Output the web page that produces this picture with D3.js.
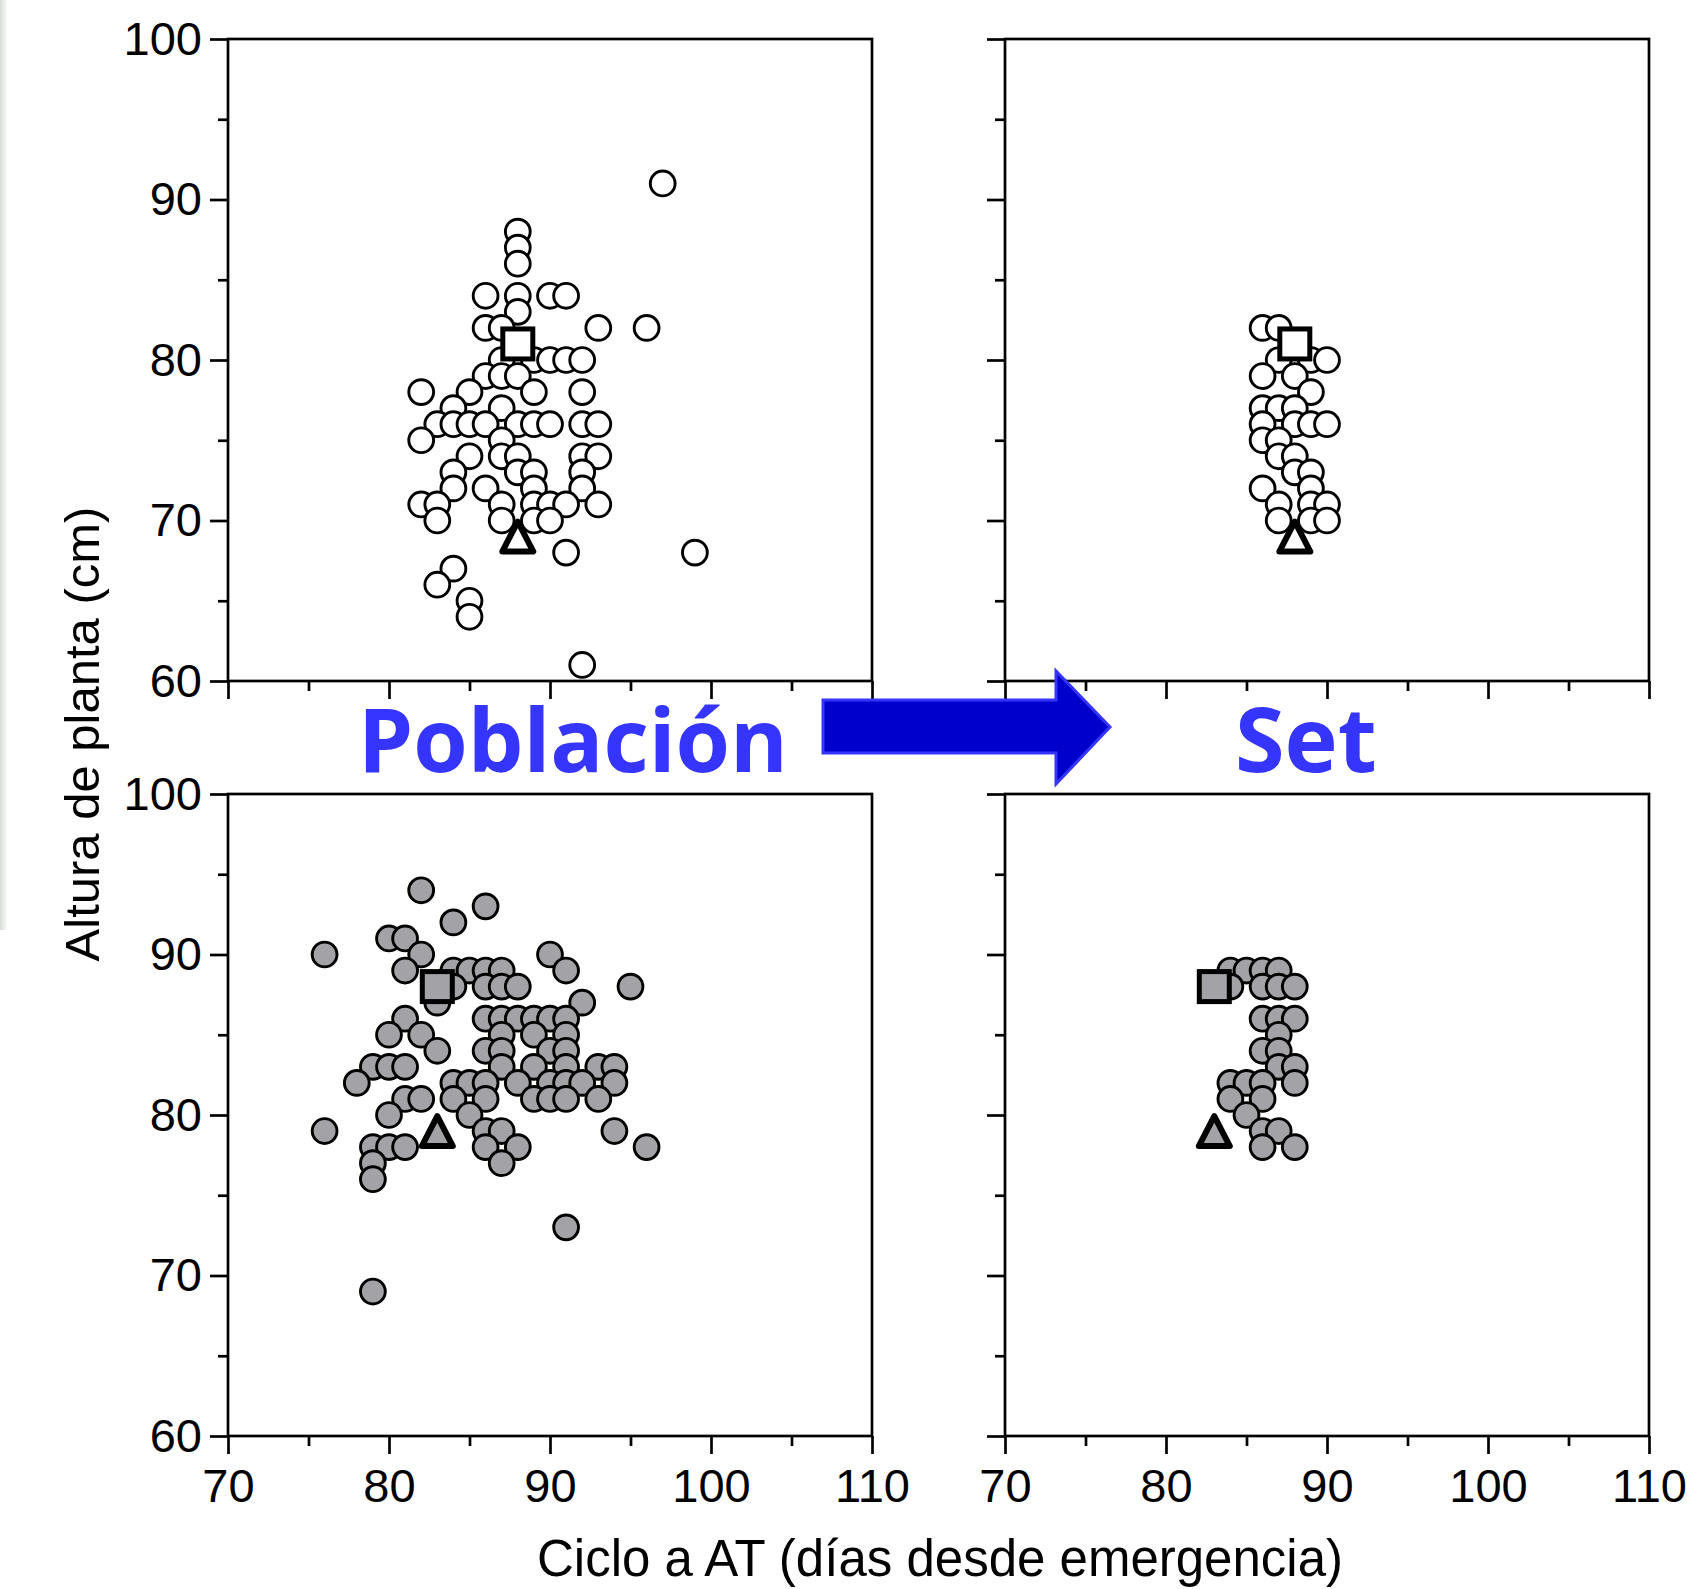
<!DOCTYPE html>
<html>
<head>
<meta charset="utf-8">
<script src="https://cdn.jsdelivr.net/npm/d3@7"></script>
<style>
  body { margin: 0; background: #fff; }
  svg { display: block; }
</style>
</head>
<body>
<svg id="chart" width="1687" height="1589"></svg>
<script>
// Ciclo a antesis (días) vs altura de planta (cm)
// Población completa (izquierda) y set seleccionado (derecha)

// ensayo 1 (símbolos blancos)
const poblacion1 = [
  [97,91],[88,88],[88,87],[88,86],[86,84],[88,84],[90,84],[91,84],[88,83],
  [86,82],[87,82],[93,82],[96,82],[87,80],[89,80],[90,80],[91,80],[92,80],
  [86,79],[87,79],[88,79],[82,78],[85,78],[89,78],[92,78],[84,77],[87,77],
  [83,76],[84,76],[85,76],[86,76],[88,76],[89,76],[90,76],[92,76],[93,76],
  [82,75],[87,75],[85,74],[87,74],[88,74],[92,74],[93,74],[84,73],[88,73],
  [89,73],[92,73],[84,72],[86,72],[89,72],[92,72],[82,71],[83,71],[87,71],
  [89,71],[90,71],[91,71],[93,71],[83,70],[87,70],[89,70],[90,70],[91,68],
  [99,68],[84,67],[83,66],[85,65],[85,64],[92,61]
];
const set1 = [
  [86,82],[87,82],[87,80],[89,80],[90,80],[86,79],[88,79],[89,78],[86,77],
  [87,77],[88,77],[86,76],[88,76],[89,76],[90,76],[86,75],[87,75],[87,74],
  [88,74],[88,73],[89,73],[86,72],[89,72],[87,71],[89,71],[90,71],[87,70],
  [89,70],[90,70]
];
const cuadrado1 = [88, 81];
const triangulo1 = [88, 69];

// ensayo 2 (símbolos grises)
const poblacion2 = [
  [82,94],[86,93],[84,92],[80,91],[81,91],[76,90],[82,90],[90,90],[81,89],
  [84,89],[85,89],[86,89],[87,89],[91,89],[84,88],[86,88],[87,88],[88,88],
  [95,88],[83,87],[92,87],[81,86],[86,86],[87,86],[88,86],[89,86],[90,86],
  [91,86],[80,85],[82,85],[87,85],[89,85],[91,85],[83,84],[86,84],[87,84],
  [90,84],[91,84],[79,83],[80,83],[81,83],[87,83],[89,83],[91,83],[93,83],
  [94,83],[78,82],[84,82],[85,82],[86,82],[88,82],[90,82],[91,82],[92,82],
  [94,82],[81,81],[82,81],[84,81],[86,81],[89,81],[90,81],[91,81],[93,81],
  [80,80],[85,80],[76,79],[86,79],[87,79],[94,79],[79,78],[80,78],[81,78],
  [86,78],[88,78],[96,78],[79,77],[87,77],[79,76],[91,73],[79,69]
];
const set2 = [
  [84,89],[85,89],[86,89],[87,89],[84,88],[86,88],[87,88],[88,88],[86,86],
  [87,86],[88,86],[87,85],[86,84],[87,84],[87,83],[88,83],[84,82],[85,82],
  [86,82],[88,82],[84,81],[86,81],[85,80],[86,79],[87,79],[86,78],[88,78]
];
const cuadrado2 = [83, 88];
const triangulo2 = [83, 79];

const xDomain = [70, 110];
const yDomain = [60, 100];
const xTicks = [70, 80, 90, 100, 110];
const xMinor = [75, 85, 95, 105];
const yTicks = [60, 70, 80, 90, 100];
const yMinor = [65, 75, 85, 95];

const tituloIzq = "Población";
const tituloDer = "Set";
const ejeX = "Ciclo a AT (días desde emergencia)";
const ejeY = "Altura de planta (cm)";

const svg = d3.select("#chart");
const W = 644, H = 642;
const gris = "#a2a2a7";
const lw = 2.7;

const panels = [
  { x0: 228,  y0: 39,  data: poblacion1, fill: "#fff", sq: cuadrado1, tri: triangulo1, xLab: false, yLab: true },
  { x0: 1005, y0: 39,  data: set1,       fill: "#fff", sq: cuadrado1, tri: triangulo1, xLab: false, yLab: false },
  { x0: 228,  y0: 794, data: poblacion2, fill: gris,   sq: cuadrado2, tri: triangulo2, xLab: true,  yLab: true },
  { x0: 1005, y0: 794, data: set2,       fill: gris,   sq: cuadrado2, tri: triangulo2, xLab: true,  yLab: false }
];

// faint edge strip on the left margin
const edge = svg.append("defs").append("linearGradient").attr("id", "edge");
edge.append("stop").attr("offset", "0").attr("stop-color", "#d8dcd8");
edge.append("stop").attr("offset", "1").attr("stop-color", "#ffffff");
svg.append("rect").attr("x", 0).attr("y", 0).attr("width", 8).attr("height", 930)
  .attr("fill", "url(#edge)");

function styleAxis(g, showText) {
  g.select(".domain").remove();
  g.selectAll(".tick line").attr("stroke", "#000").attr("stroke-width", lw);
  g.selectAll(".tick text")
    .attr("fill", "#000")
    .style("font-family", "'Liberation Sans', Arial, sans-serif")
    .style("font-size", "47px");
  if (!showText) g.selectAll(".tick text").remove();
}

panels.forEach(p => {
  const x = d3.scaleLinear().domain(xDomain).range([p.x0, p.x0 + W]);
  const y = d3.scaleLinear().domain(yDomain).range([p.y0 + H, p.y0]);
  const g = svg.append("g");

  // y axis, major and minor ticks
  g.append("g").attr("transform", `translate(${p.x0},0)`)
    .call(d3.axisLeft(y).tickValues(yTicks).tickSize(18).tickPadding(8).tickFormat(d3.format("d")))
    .call(a => styleAxis(a, p.yLab));
  g.append("g").attr("transform", `translate(${p.x0},0)`)
    .call(d3.axisLeft(y).tickValues(yMinor).tickSize(10).tickFormat(""))
    .call(a => styleAxis(a, false));

  // x axis, major and minor ticks
  g.append("g").attr("transform", `translate(0,${p.y0 + H})`)
    .call(d3.axisBottom(x).tickValues(xTicks).tickSize(18).tickPadding(15).tickFormat(d3.format("d")))
    .call(a => styleAxis(a, p.xLab));
  g.append("g").attr("transform", `translate(0,${p.y0 + H})`)
    .call(d3.axisBottom(x).tickValues(xMinor).tickSize(10).tickFormat(""))
    .call(a => styleAxis(a, false));

  // frame
  g.append("rect")
    .attr("x", p.x0).attr("y", p.y0).attr("width", W).attr("height", H)
    .attr("fill", "none").attr("stroke", "#000").attr("stroke-width", lw);

  // individual lines
  g.append("g").selectAll("circle").data(p.data).join("circle")
    .attr("cx", d => x(d[0])).attr("cy", d => y(d[1])).attr("r", 12.4)
    .attr("fill", p.fill).attr("stroke", "#000").attr("stroke-width", 2.9);

  // square and triangle markers
  const s = 30;
  g.append("rect")
    .attr("x", x(p.sq[0]) - s / 2).attr("y", y(p.sq[1]) - s / 2)
    .attr("width", s).attr("height", s)
    .attr("fill", p.fill).attr("stroke", "#000").attr("stroke-width", 5);
  const tw = 31, th = 30;
  const tx = x(p.tri[0]), ty = y(p.tri[1]);
  g.append("path")
    .attr("d", `M${tx},${ty - th / 2}L${tx + tw / 2},${ty + th / 2}L${tx - tw / 2},${ty + th / 2}Z`)
    .attr("fill", p.fill).attr("stroke", "#000").attr("stroke-width", 6)
    .attr("stroke-linejoin", "round");
});

// axis titles
svg.append("text")
  .attr("transform", "translate(99,734) rotate(-90)")
  .attr("text-anchor", "middle")
  .style("font-family", "'Liberation Sans', Arial, sans-serif")
  .style("font-size", "49px")
  .attr("fill", "#000")
  .text(ejeY);

svg.append("text")
  .attr("x", 940).attr("y", 1576)
  .attr("text-anchor", "middle")
  .style("font-family", "'Liberation Sans', Arial, sans-serif")
  .style("font-size", "51px")
  .attr("fill", "#000")
  .text(ejeX);

// headings
const azul = "#3535ff";
svg.append("text")
  .attr("x", 358).attr("y", 772)
  .style("font-family", "'Open Sans', sans-serif")
  .style("font-weight", "700")
  .style("font-size", "88px")
  .attr("fill", azul)
  .text(tituloIzq);
svg.append("text")
  .attr("x", 1235).attr("y", 772)
  .style("font-family", "'Open Sans', sans-serif")
  .style("font-weight", "700")
  .style("font-size", "90px")
  .attr("fill", azul)
  .text(tituloDer);

// arrow from population to set
const arrow = [
  [823, 700], [1056, 700], [1056, 671], [1110, 727],
  [1056, 784], [1056, 753], [823, 753]
];
svg.append("path")
  .attr("d", d3.line()(arrow) + "Z")
  .attr("fill", "#0000cc")
  .attr("stroke", azul)
  .attr("stroke-width", 3);
</script>
</body>
</html>
